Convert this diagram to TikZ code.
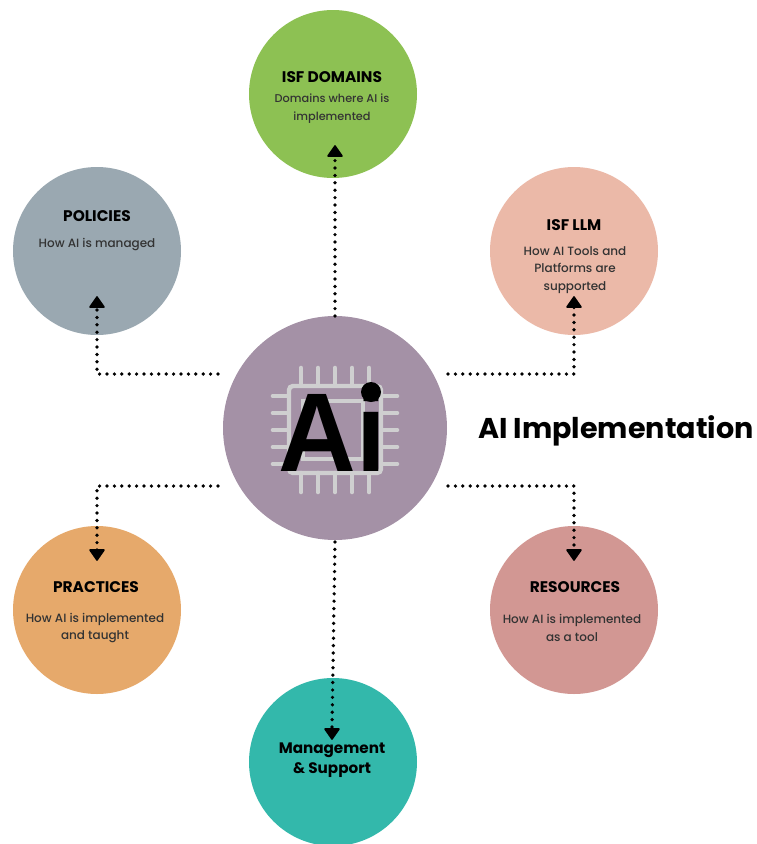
\documentclass[tikz,border=0pt]{standalone}
\usepackage{fontspec}
\setmainfont{Poppins}
\newfontfamily\medfont{Poppins Medium}
\newfontfamily\logofont{Liberation Sans}[BoldFont=* Bold]
\usetikzlibrary{arrows.meta}
\definecolor{cgreen}{HTML}{8DC153}
\definecolor{cgrey}{HTML}{9AA8B1}
\definecolor{cpink}{HTML}{EBB9A8}
\definecolor{corange}{HTML}{E6A96B}
\definecolor{crose}{HTML}{D29793}
\definecolor{cteal}{HTML}{33B8AB}
\definecolor{cpurple}{HTML}{A491A6}
\definecolor{cpin}{HTML}{CFCFD0}
\tikzset{
  disc/.style={circle,minimum size=168pt,inner sep=0pt},
  head/.style={font=\fontsize{15.4}{19}\selectfont\bfseries,align=center,inner sep=0pt,text=black},
  body/.style={font=\fontsize{12}{17.7}\medfont,align=center,inner sep=0pt,text=black!80},
  conn/.style={line width=3.7pt,line cap=round,dash pattern=on 0pt off 7.4pt},
  tip/.style={fill=black,draw=black,line width=1.6pt,line join=round},
  pin/.style={draw=cpin,line width=4.6pt,line cap=round},
}
\begin{document}
\begin{tikzpicture}[x=1pt,y=-1pt]
\useasboundingbox (0,0) rectangle (756,844);
\node[disc,fill=cgreen] (domains) at (333,94) {};
\node[disc,fill=cgrey] (policies) at (97,251) {};
\node[disc,fill=cpink] (llm) at (574,251) {};
\node[disc,fill=corange] (practices) at (97,610) {};
\node[disc,fill=crose] (resources) at (574,610) {};
\node[disc,fill=cteal] (mgmt) at (333,762) {};
\node[circle,minimum size=224pt,inner sep=0pt,fill=cpurple] (ai) at (335,428) {};
% chip
\foreach \x in {301,318,335,352,369}{
  \draw[pin] (\x,368) -- (\x,385);
  \draw[pin] (\x,473) -- (\x,492);
}
\foreach \y in {396,413,430,447,464}{
  \draw[pin] (273,\y) -- (288,\y);
  \draw[pin] (382,\y) -- (397,\y);
}
\draw[draw=cpin,line width=4.4pt,rounded corners=4pt] (289,386) rectangle (381,473);
\draw[draw=cpin,line width=4.2pt] (303,401) rectangle (363,459);
\node[anchor=base,inner sep=0pt,xscale=0.96,font=\fontsize{112}{112}\logofont\bfseries,text=black] (logo) at (332.5,471) {Ai};
\node[circle,fill=black,minimum size=20pt,inner sep=0pt] (idot) at (371,392) {};
% texts
\node[head] (t1) at (332,77) {ISF DOMAINS};
\node[body,font=\fontsize{11.3}{18}\medfont] (t1b) at (332,109) {Domains where AI is\\implemented};
\node[head] (t2) at (97,216) {POLICIES};
\node[body] (t2b) at (97,245) {How AI is managed};
\node[head] (t3) at (574,225) {ISF LLM};
\node[body] (t3b) at (575,270) {How AI Tools and\\Platforms are\\supported};
\node[head] (t4) at (96,587) {PRACTICES};
\node[body] (t4b) at (95,628) {How AI is implemented\\and taught};
\node[head] (t5) at (575,587) {RESOURCES};
\node[body] (t5b) at (572,628) {How AI is implemented\\as a tool};
\node[head,font=\fontsize{15.2}{19.5}\selectfont\bfseries] (t6) at (332,760) {Management\\\& Support};
\node[anchor=west,inner sep=0pt,font=\fontsize{28.6}{34}\selectfont\bfseries] (title) at (478,431) {AI Implementation};
% connectors
\coordinate (a1) at (335,316);
\coordinate (e1) at (335,156);
\coordinate (a2) at (218,374);
\coordinate (e2) at (97,307);
\coordinate (a3) at (448,374);
\coordinate (e3) at (574,307);
\coordinate (a4) at (218,486);
\coordinate (e4) at (97,550);
\coordinate (a5) at (448,486);
\coordinate (e5) at (574,550);
\coordinate (a6) at (335,542);
\coordinate (e6) at (332,729);
\draw[conn] (a1) -- (e1);
\draw[conn] (a2) -| (e2);
\draw[conn] (a3) -| (e3);
\draw[conn] (a4) -| (e4);
\draw[conn] (a5) -| (e5);
\draw[conn] (a6) -- (e6);
% arrowheads
\foreach \n in {1,2,3}{
  \draw[tip] ([xshift=-7pt]e\n.center) -- ([yshift=10pt]e\n.center) -- ([xshift=7pt]e\n.center) -- cycle;
}
\foreach \n in {4,5,6}{
  \draw[tip] ([xshift=-7pt]e\n.center) -- ([yshift=-10pt]e\n.center) -- ([xshift=7pt]e\n.center) -- cycle;
}
\end{tikzpicture}
\end{document}
